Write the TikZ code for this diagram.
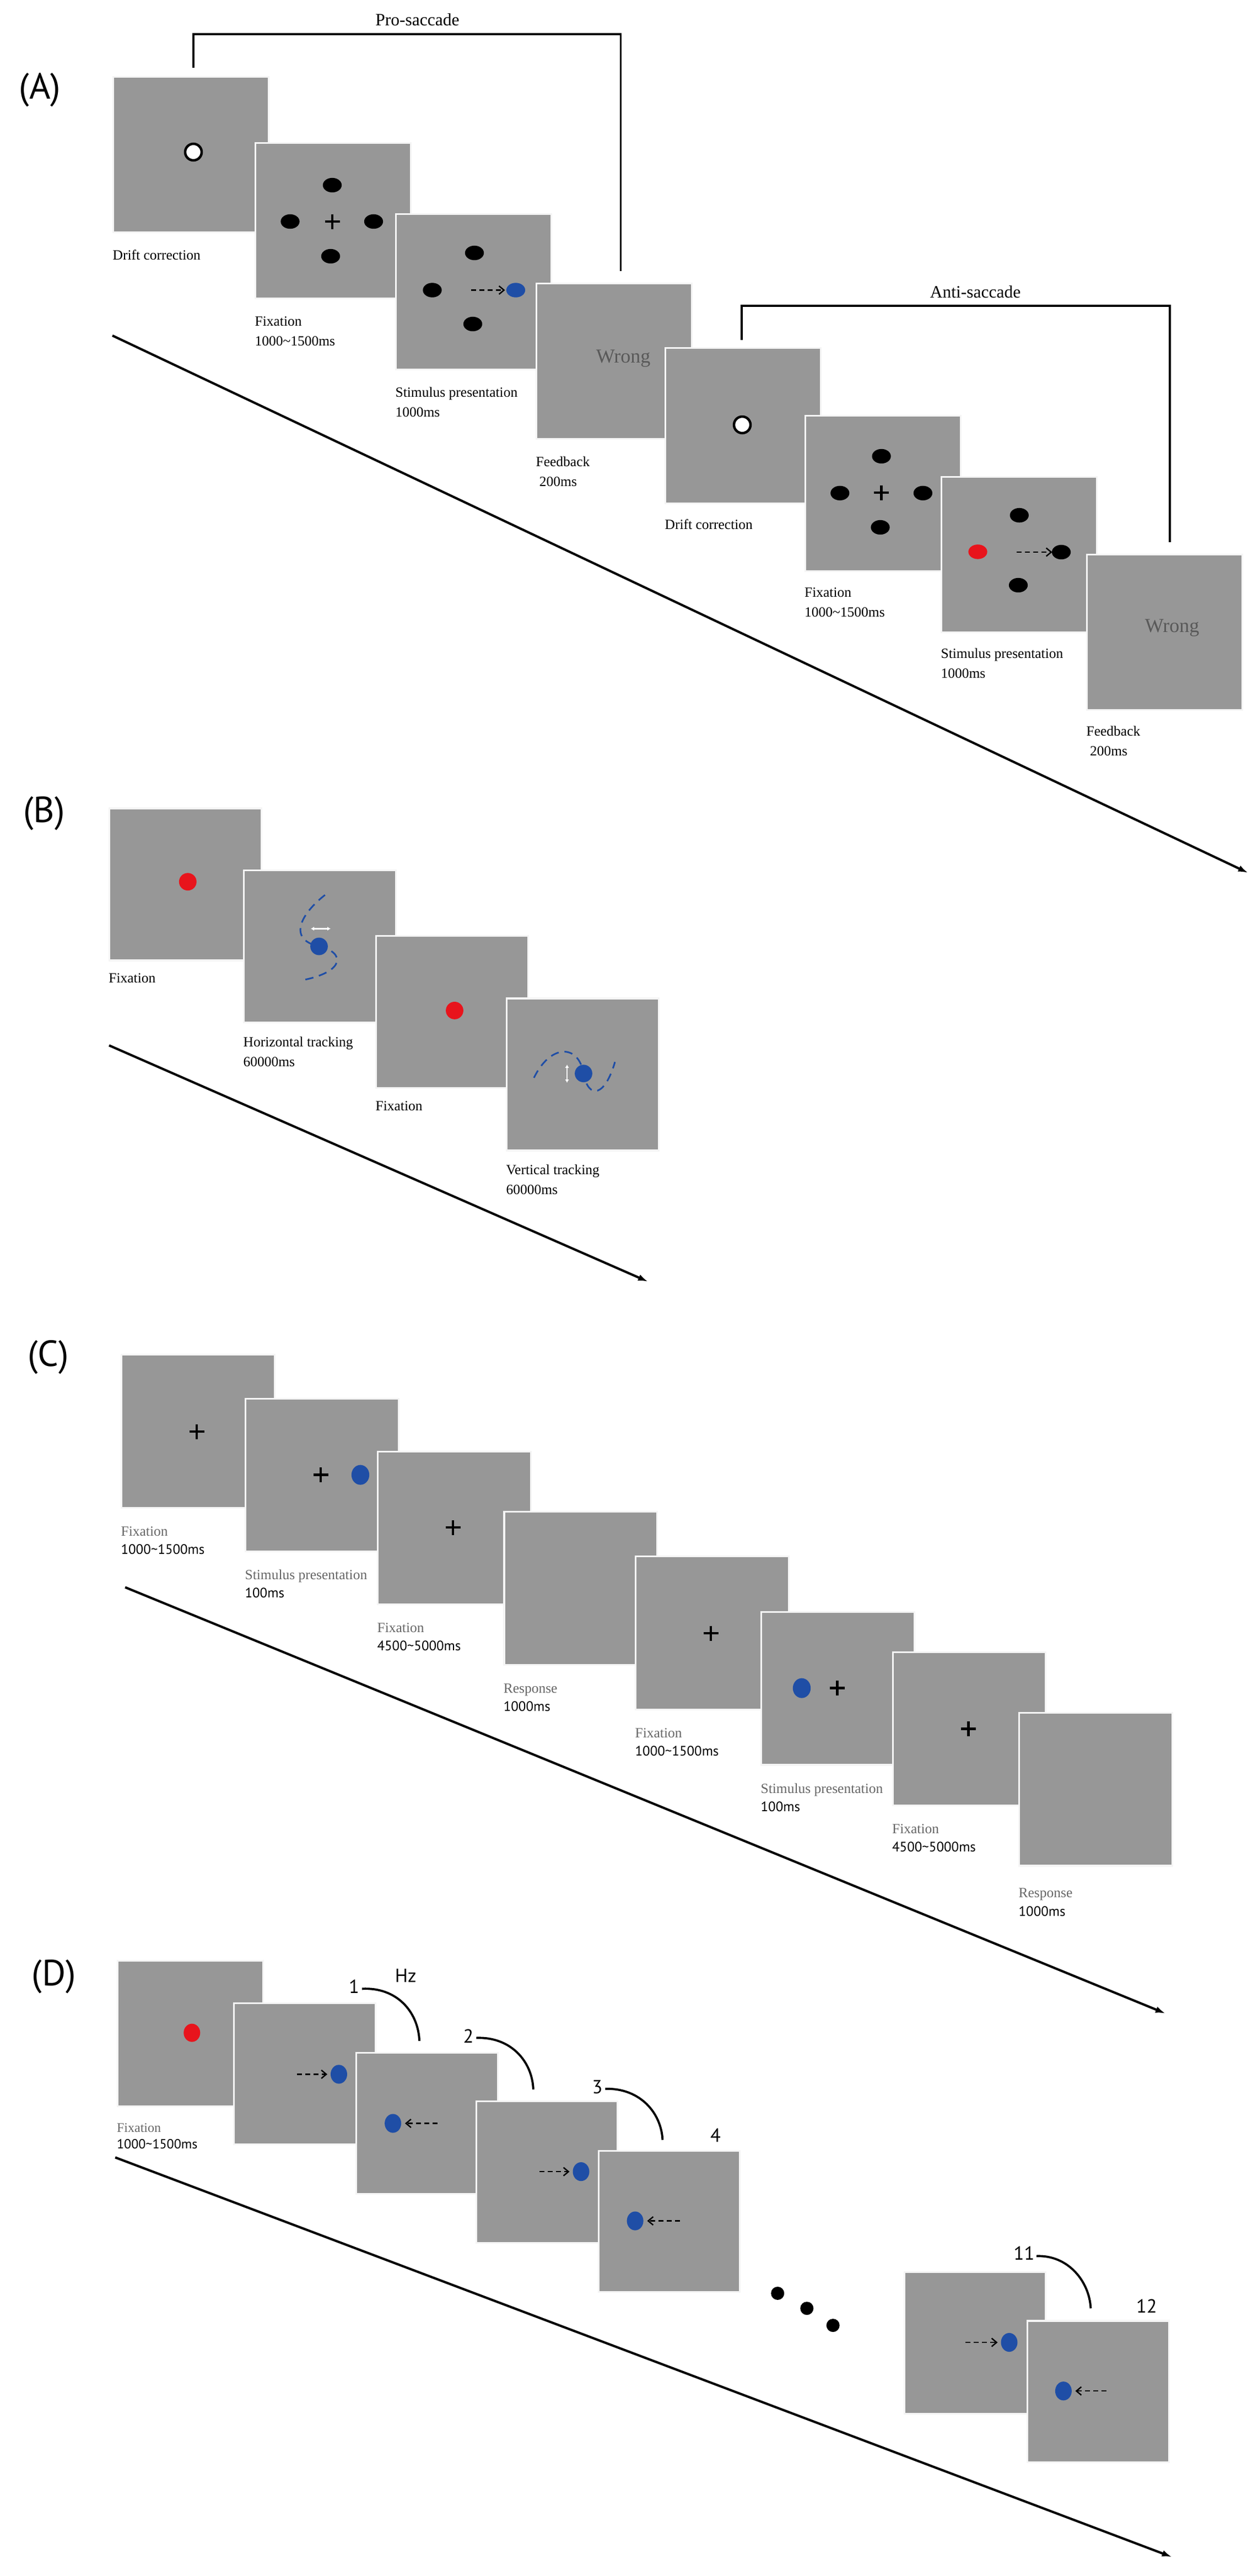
\documentclass[tikz,border=0pt]{standalone}
\usepackage{fontspec}
\setmainfont{Liberation Serif}
\setsansfont{PT Sans}
\usetikzlibrary{calc,arrows.meta}
\definecolor{scrgray}{HTML}{979797}
\definecolor{dotblue}{HTML}{1F4EA6}
\definecolor{dotred}{HTML}{E8141C}
\definecolor{labgray}{HTML}{666666}
\newcommand{\mybdot}[3]{\fill[#1] ($(#2.north west)+#3$) ellipse [x radius=5.7pt,y radius=4.4pt];}
\newcommand{\mycdot}[3]{\fill[#1] ($(#2.north west)+#3$) ellipse [x radius=5.4pt,y radius=6pt];}
\newcommand{\myddot}[2]{\fill[dotblue] ($(#1.north west)+#2$) ellipse [x radius=5pt,y radius=5.7pt];}
\newcommand{\mycrs}[2]{\draw[line width=1.6pt] ($(#1.north west)+#2+(-4.5,0)$) -- ++(9,0); \draw[line width=1.6pt] ($(#1.north west)+#2+(0,-4.5)$) -- ++(0,9);}
\begin{document}
\begin{tikzpicture}[x=1pt,y=-1pt,
  scr/.style={rectangle,fill=scrgray,draw=white!92!gray,line width=1.1pt,inner sep=0pt,anchor=north west,minimum width=#1,minimum height=#1},
  lab/.style={anchor=base west,inner sep=0pt,font=\fontsize{8.5}{10}\selectfont},
  labg/.style={anchor=base west,inner sep=0pt,font=\fontsize{8.5}{10}\selectfont,text=labgray},
  labs/.style={anchor=base west,inner sep=0pt,font=\sffamily\fontsize{8.3}{10}\selectfont},
  panel/.style={font=\sffamily\fontsize{22}{24}\selectfont,inner sep=0pt},
  num/.style={font=\sffamily\fontsize{11.5}{13}\selectfont,inner sep=0pt},
  wrong/.style={font=\fontsize{12}{14}\selectfont,text=black!65,inner sep=0pt},
  tl/.style={line width=1.4pt,-{Latex[length=6pt,width=4pt]}},
  brk/.style={line width=1.3pt},
  darr/.style={densely dashed,line width=0.8pt,-{Straight Barb[length=3pt,width=5pt]}},
  arc/.style={line width=1.3pt},
  wdarr/.style={white,line width=0.8pt,{Latex[length=2pt,width=2.5pt]}-{Latex[length=2pt,width=2.5pt]}}
]
\useasboundingbox (0,0) rectangle (760.67,1558.33);

% ================= (A) =================
\node[panel] (pA) at (24.2,54.5) {(A)};
\node[scr=94pt] (a1) at (68,46) {};
\draw[fill=white,line width=1.5pt] ($(a1.north west)+(49,46)$) circle [radius=5pt];
\node[lab] (a1l) at ($(a1.south west)+(0,16)$) {Drift correction};

\node[scr=94pt] (a2) at (154,86) {};
\mybdot{black}{a2}{(47,26)} \mybdot{black}{a2}{(21.5,48)} \mybdot{black}{a2}{(72,48)} \mybdot{black}{a2}{(46,69)}
\mycrs{a2}{(47,48)}
\node[lab] (a2l) at ($(a2.south west)+(0,16)$) {Fixation};
\node[lab] (a2m) at ($(a2.south west)+(0,28)$) {1000\textasciitilde1500ms};

\node[scr=94pt] (a3) at (239,129) {};
\mybdot{black}{a3}{(48,24)} \mybdot{black}{a3}{(22.5,46.5)} \mybdot{black}{a3}{(47,67)} \mybdot{dotblue}{a3}{(73,46.5)}
\coordinate (a3s) at ($(a3.north west)+(46,46.5)$);
\coordinate (a3e) at ($(a3.north west)+(66.5,46.5)$);
\draw[darr] (a3s) -- (a3e);
\node[lab] (a3l) at ($(a3.south west)+(0,16)$) {Stimulus presentation};
\node[lab] (a3m) at ($(a3.south west)+(0,28)$) {1000ms};

\node[scr=94pt] (a4) at (324,171) {};
\node[wrong] (a4w) at ($(a4.north west)+(53,46)$) {Wrong};
\node[lab] (a4l) at ($(a4.south west)+(0,16)$) {Feedback};
\node[lab] (a4m) at ($(a4.south west)+(0,28)$) {\ 200ms};

\node[scr=94pt] (a5) at (402,210) {};
\draw[fill=white,line width=1.5pt] ($(a5.north west)+(47,47)$) circle [radius=5pt];
\node[lab] (a5l) at ($(a5.south west)+(0,15)$) {Drift correction};

\node[scr=94pt] (a6) at (486.5,251) {};
\mybdot{black}{a6}{(46.7,25)} \mybdot{black}{a6}{(21.6,47.3)} \mybdot{black}{a6}{(71.8,47.3)} \mybdot{black}{a6}{(46,68)}
\mycrs{a6}{(46.6,47)}
\node[lab] (a6l) at ($(a6.south west)+(0,15)$) {Fixation};
\node[lab] (a6m) at ($(a6.south west)+(0,27)$) {1000\textasciitilde1500ms};

\node[scr=94pt] (a7) at (569,288) {};
\mybdot{dotred}{a7}{(22.5,45.8)} \mybdot{black}{a7}{(47.6,23.7)} \mybdot{black}{a7}{(73,46)} \mybdot{black}{a7}{(47,66)}
\coordinate (a7s) at ($(a7.north west)+(46,46)$);
\coordinate (a7e) at ($(a7.north west)+(67.5,46)$);
\draw[darr] (a7s) -- (a7e);
\node[lab] (a7l) at ($(a7.south west)+(0,15)$) {Stimulus presentation};
\node[lab] (a7m) at ($(a7.south west)+(0,27)$) {1000ms};

\node[scr=94pt] (a8) at (657,335) {};
\node[wrong] (a8w) at ($(a8.north west)+(52,45)$) {Wrong};
\node[lab] (a8l) at ($(a8.south west)+(0,15)$) {Feedback};
\node[lab] (a8m) at ($(a8.south west)+(0,27)$) {\ 200ms};

% brackets
\coordinate (p1) at (117,41); \coordinate (p2) at (375.5,164);
\draw[brk] (p1) |- (375.5,20.6) -- (p2);
\node[font=\fontsize{10.5}{12}\selectfont,inner sep=0pt] (pro) at (252.5,12) {Pro-saccade};
\coordinate (q1) at (448.8,205.5); \coordinate (q2) at (707.8,328);
\draw[brk] (q1) |- (707.8,185) -- (q2);
\node[font=\fontsize{10.5}{12}\selectfont,inner sep=0pt] (anti) at (590,176.7) {Anti-saccade};

\coordinate (ta1) at (68,203); \coordinate (ta2) at (755,528);
\draw[tl] (ta1) -- (ta2);

% ================= (B) =================
\node[panel] (pB) at (26.6,492) {(B)};
\node[scr=92pt] (b1) at (65.6,488.4) {};
\fill[dotred] ($(b1.north west)+(48,45)$) circle [radius=5.3pt];
\node[lab] (b1l) at ($(b1.south west)+(0,13)$) {Fixation};

\node[scr=92pt] (b2) at (147,526) {};
\draw[dotblue,dash pattern=on 5pt off 3.5pt,line width=1pt]
  ($(b2.north west)+(49.6,15.4)$) .. controls ($(b2.north west)+(36,26)$) and ($(b2.north west)+(26,42)$) .. ($(b2.north west)+(46,46.5)$)
  .. controls ($(b2.north west)+(62,50)$) and ($(b2.north west)+(62,62)$) .. ($(b2.north west)+(35.6,67)$);
\fill[dotblue] ($(b2.north west)+(46,46.5)$) circle [radius=5.3pt];
\coordinate (b2a) at ($(b2.north west)+(41,35.8)$);
\coordinate (b2b) at ($(b2.north west)+(53,35.8)$);
\draw[wdarr] (b2a) -- (b2b);
\node[lab] (b2l) at ($(b2.south west)+(0,14)$) {Horizontal tracking};
\node[lab] (b2m) at ($(b2.south west)+(0,26)$) {60000ms};

\node[scr=92pt] (b3) at (227,565.6) {};
\fill[dotred] ($(b3.north west)+(48,45.7)$) circle [radius=5.3pt];
\node[lab] (b3l) at ($(b3.south west)+(0,13)$) {Fixation};

\node[scr=92pt] (b4) at (306,603.4) {};
\draw[dotblue,dash pattern=on 5pt off 3.5pt,line width=1pt]
  ($(b4.north west)+(17,48.6)$) .. controls ($(b4.north west)+(27,28)$) and ($(b4.north west)+(44,28)$) .. ($(b4.north west)+(47,46)$)
  .. controls ($(b4.north west)+(50,62)$) and ($(b4.north west)+(60,60)$) .. ($(b4.north west)+(66,39)$);
\fill[dotblue] ($(b4.north west)+(47,46)$) circle [radius=5.3pt];
\coordinate (b4a) at ($(b4.north west)+(37,40.6)$);
\coordinate (b4b) at ($(b4.north west)+(37,51.6)$);
\draw[wdarr] (b4a) -- (b4b);
\node[lab] (b4l) at ($(b4.south west)+(0,14)$) {Vertical tracking};
\node[lab] (b4m) at ($(b4.south west)+(0,26)$) {60000ms};

\coordinate (tb1) at (66,632.4); \coordinate (tb2) at (392,775.3);
\draw[tl] (tb1) -- (tb2);

% ================= (C) =================
\node[panel] (pC) at (29.2,821) {(C)};
\node[scr=92.5pt] (c1) at (73,819) {};
\mycrs{c1}{(46,47)}
\node[labg] (c1l) at ($(c1.south west)+(0,16.5)$) {Fixation};
\node[labs] (c1m) at ($(c1.south west)+(0,27.5)$) {1000\textasciitilde1500ms};

\node[scr=92.5pt] (c2) at (148,845.5) {};
\mycrs{c2}{(46,46.7)} \mycdot{dotblue}{c2}{(70,46.7)}
\node[labg] (c2l) at ($(c2.south west)+(0,16.5)$) {Stimulus presentation};
\node[labs] (c2m) at ($(c2.south west)+(0,27.5)$) {100ms};

\node[scr=92.5pt] (c3) at (228,877.5) {};
\mycrs{c3}{(46,46.5)}
\node[labg] (c3l) at ($(c3.south west)+(0,16.5)$) {Fixation};
\node[labs] (c3m) at ($(c3.south west)+(0,27.5)$) {4500\textasciitilde5000ms};

\node[scr=92.5pt] (c4) at (304.4,914) {};
\node[labg] (c4l) at ($(c4.south west)+(0,16.5)$) {Response};
\node[labs] (c4m) at ($(c4.south west)+(0,27.5)$) {1000ms};

\node[scr=92.5pt] (c5) at (384,941) {};
\mycrs{c5}{(46,47)}
\node[labg] (c5l) at ($(c5.south west)+(0,16.5)$) {Fixation};
\node[labs] (c5m) at ($(c5.south west)+(0,27.5)$) {1000\textasciitilde1500ms};

\node[scr=92.5pt] (c6) at (460,974.6) {};
\mycdot{dotblue}{c6}{(25,46.6)} \mycrs{c6}{(46.6,46.6)}
\node[labg] (c6l) at ($(c6.south west)+(0,16.5)$) {Stimulus presentation};
\node[labs] (c6m) at ($(c6.south west)+(0,27.5)$) {100ms};

\node[scr=92.5pt] (c7) at (539.5,999) {};
\mycrs{c7}{(46.3,46.8)}
\node[labg] (c7l) at ($(c7.south west)+(0,16.5)$) {Fixation};
\node[labs] (c7m) at ($(c7.south west)+(0,27.5)$) {4500\textasciitilde5000ms};

\node[scr=92.5pt] (c8) at (616,1035.6) {};
\node[labg] (c8l) at ($(c8.south west)+(0,18.5)$) {Response};
\node[labs] (c8m) at ($(c8.south west)+(0,30)$) {1000ms};

\coordinate (tc1) at (75.7,960.2); \coordinate (tc2) at (705,1218);
\draw[tl] (tc1) -- (tc2);

% ================= (D) =================
\node[panel] (pD) at (32.6,1195.7) {(D)};
\node[scr=88pt] (d1) at (70.5,1185.7) {};
\fill[dotred] ($(d1.north west)+(45.6,44)$) ellipse [x radius=5pt,y radius=5.5pt];
\node[labg,font=\fontsize{8}{9}\selectfont] (d1l) at ($(d1.south west)+(0,15)$) {Fixation};
\node[labs,font=\sffamily\fontsize{8}{9}\selectfont] (d1m) at ($(d1.south west)+(0,25)$) {1000\textasciitilde1500ms};

\node[scr=85.5pt] (d2) at (141,1211.2) {};
\myddot{d2}{(64,43.6)}
\coordinate (d2s) at ($(d2.north west)+(38.7,43.6)$); \coordinate (d2e) at ($(d2.north west)+(57,43.6)$);
\draw[darr] (d2s) -- (d2e);

\node[scr=85.5pt] (d3) at (215,1241.2) {};
\myddot{d3}{(22.7,43.3)}
\coordinate (d3s) at ($(d3.north west)+(49.8,43.3)$); \coordinate (d3e) at ($(d3.north west)+(30,43.3)$);
\draw[darr] (d3s) -- (d3e);

\node[scr=85.5pt] (d4) at (287.5,1270.7) {};
\myddot{d4}{(64,43)}
\coordinate (d4s) at ($(d4.north west)+(38.7,43)$); \coordinate (d4e) at ($(d4.north west)+(57,43)$);
\draw[darr] (d4s) -- (d4e);

\node[scr=85.5pt] (d5) at (361.5,1300.5) {};
\myddot{d5}{(22.7,43)}
\coordinate (d5s) at ($(d5.north west)+(49.8,43)$); \coordinate (d5e) at ($(d5.north west)+(30,43)$);
\draw[darr] (d5s) -- (d5e);

\node[scr=85.5pt] (d11) at (546.5,1374) {};
\myddot{d11}{(64,43)}
\coordinate (d11s) at ($(d11.north west)+(37.5,43)$); \coordinate (d11e) at ($(d11.north west)+(57,43)$);
\draw[darr] (d11s) -- (d11e);

\node[scr=85.5pt] (d12) at (621,1403.4) {};
\myddot{d12}{(22.3,43)}
\coordinate (d12s) at ($(d12.north west)+(48.3,43)$); \coordinate (d12e) at ($(d12.north west)+(29.5,43)$);
\draw[darr] (d12s) -- (d12e);

% ellipsis dots
\fill (470.4,1387.3) circle [radius=4pt];
\fill (488.1,1396.4) circle [radius=4pt];
\fill (503.9,1406.7) circle [radius=4pt];

% numbers and arcs
\node[num] (n1) at (214.2,1201.6) {1};
\node[num] (hz) at (245.4,1195) {Hz};
\coordinate (e1) at (253.7,1234.6);
\draw[arc] ($(n1.east)+(1.5,1.5)$) .. controls (240,1202) and (253,1217) .. (e1);
\node[num] (n2) at (283.3,1231.8) {2};
\coordinate (e2) at (322.6,1264);
\draw[arc] ($(n2.east)+(1.5,1)$) .. controls (309,1232) and (322,1247) .. (e2);
\node[num] (n3) at (361.3,1262.6) {3};
\coordinate (e3) at (400.8,1294.5);
\draw[arc] ($(n3.east)+(1.5,1)$) .. controls (387,1263) and (400,1278) .. (e3);
\node[num] (n4) at (432.8,1291.8) {4};
\node[num] (n11) at (619.5,1363.1) {11};
\coordinate (e11) at (659.8,1396.4);
\draw[arc] ($(n11.east)+(1,1.7)$) .. controls (646,1364) and (659,1380) .. (e11);
\node[num] (n12) at (693.6,1395.1) {12};

\coordinate (td1) at (69.7,1305.1); \coordinate (td2) at (708.9,1546.8);
\draw[tl] (td1) -- (td2);
\end{tikzpicture}
\end{document}
